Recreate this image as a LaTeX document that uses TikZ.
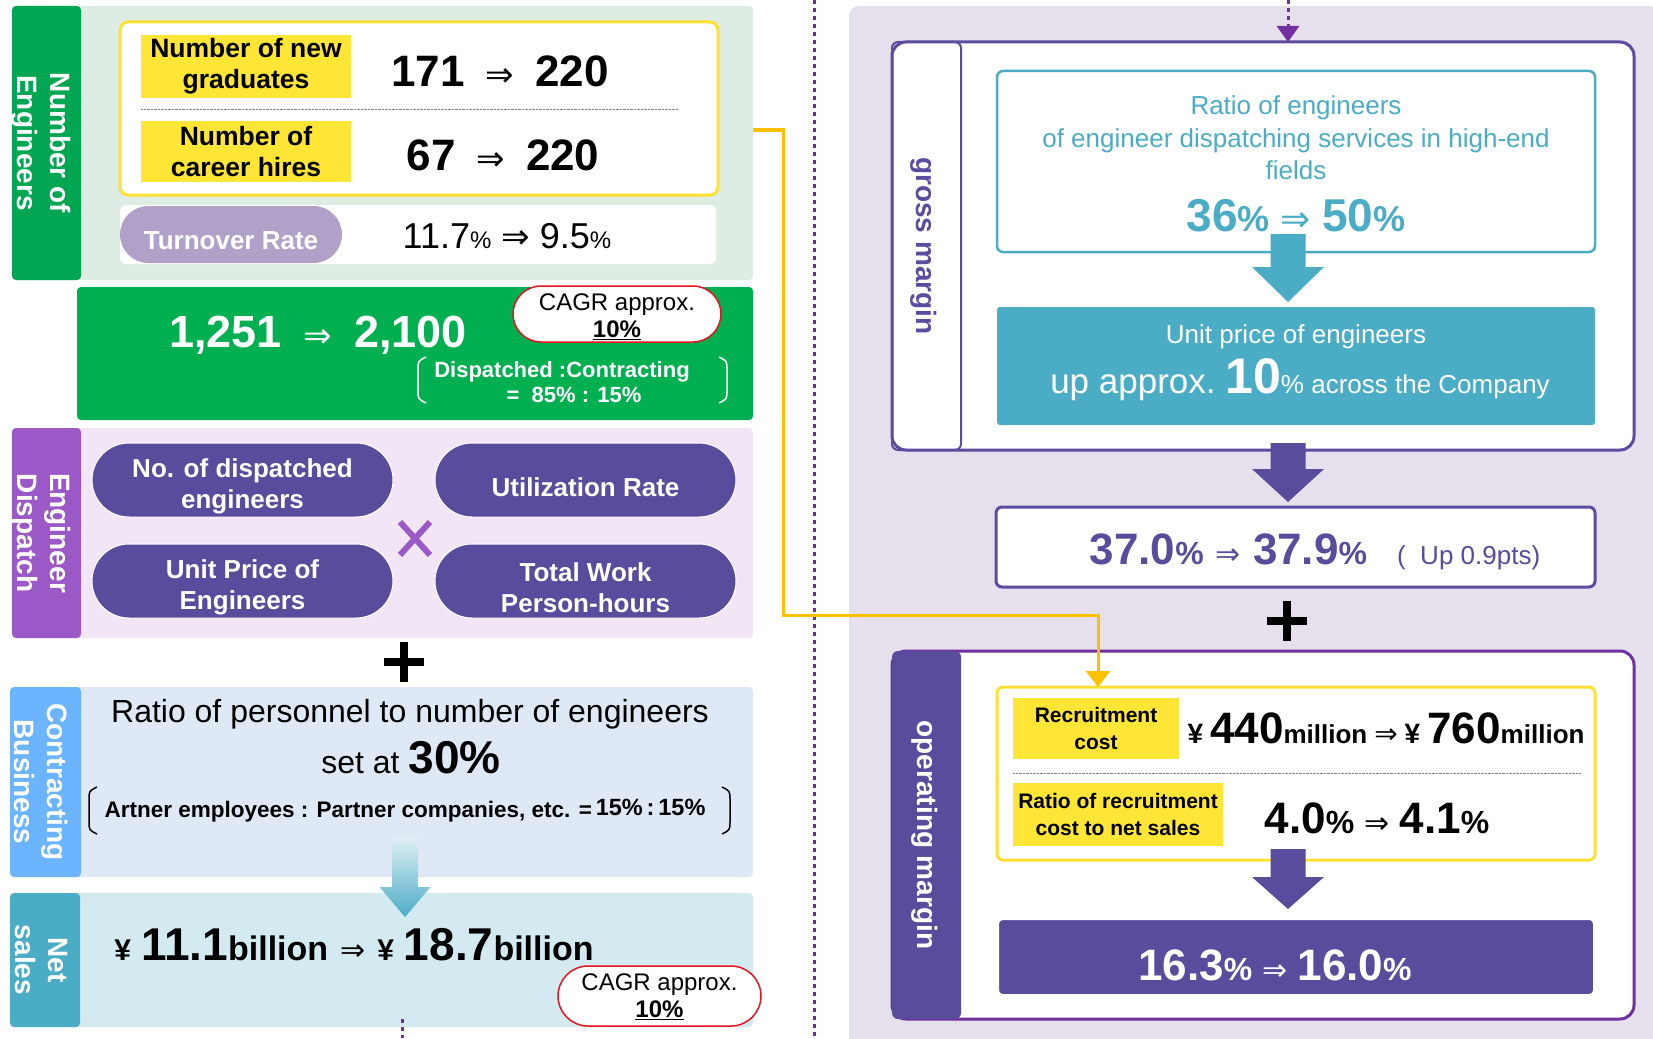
\documentclass[tikz,border=0pt]{standalone}
\usepackage{fontspec}
\setmainfont{Liberation Sans}
\newfontfamily\arrfont{DejaVu Sans}
\usetikzlibrary{arrows.meta}

\definecolor{engbg}{RGB}{221,237,228}
\definecolor{engbar}{RGB}{0,166,81}
\definecolor{totgreen}{RGB}{0,176,80}
\definecolor{tagyellow}{RGB}{255,229,54}
\definecolor{framey}{RGB}{255,224,51}
\definecolor{lavpill}{RGB}{177,160,200}
\definecolor{dispbg}{RGB}{242,230,246}
\definecolor{dispbar}{RGB}{155,89,200}
\definecolor{pillpurple}{RGB}{89,76,156}
\definecolor{conbg}{RGB}{223,233,245}
\definecolor{conbar}{RGB}{108,180,254}
\definecolor{netbg}{RGB}{211,234,241}
\definecolor{tealc}{RGB}{75,172,198}
\definecolor{rightbg}{RGB}{230,223,236}
\definecolor{frameviolet}{RGB}{92,75,158}
\definecolor{framepurple}{RGB}{112,48,160}
\definecolor{connorange}{RGB}{255,192,0}
\definecolor{cagrred}{RGB}{230,20,30}
\definecolor{arrowpale}{RGB}{225,240,245}

\newcommand\fsz[2]{\fontsize{#1}{#2}\selectfont}
% arrow sign with gap on both sides
\newcommand\imp[2]{\hspace{#1pt}{\arrfont\mdseries\fontsize{#2}{#2}\selectfont ⇒}\hspace{#1pt}}

\tikzset{pics/downarrow/.style args={#1/#2/#3/#4}{code={
  \path[pic actions] (-#2,0) -- (#2,0) -- (#2,#4) -- (#3,#4) -- (0,#1) -- (-#3,#4) -- (-#2,#4) -- cycle;}}}

\begin{document}
\begin{tikzpicture}[x=1pt,y=-1pt,
  panel/.style={rectangle,anchor=north west,inner sep=0pt,outer sep=0pt,rounded corners=4pt},
  sidetext/.style={rotate=-90,align=center,text=white,font=\fsz{28}{33}\bfseries},
  tag/.style={panel,rounded corners=0pt,fill=tagyellow,align=center},
  pill/.style={panel,rounded corners=37pt,fill=pillpurple,draw=white,line width=1pt,minimum width=301,minimum height=74},
  pilltext/.style={text=white,align=center,font=\fsz{26}{31.5}\bfseries,inner sep=0pt},
  cagr/.style={panel,fill=white,draw=cagrred,line width=1.5pt,rounded corners=28pt},
  cagrtext/.style={align=center,font=\fsz{24}{27},inner sep=0pt},
  loopline/.style={draw=framepurple,line width=3pt,dash pattern=on 4pt off 4pt},
  paren/.style={line width=1.5pt},
  signmark/.style={line width=8pt},
  value/.style={anchor=base,inner sep=0pt}
]
\useasboundingbox (0,0) rectangle (1653,1038);

% number of engineers
\node[panel,fill=engbg,minimum width=740,minimum height=274] (engsec) at (13,6) {};
\node[panel,fill=engbar,minimum width=69,minimum height=274] (engside) at (12,6) {};
\node[sidetext] at ([xshift=-5pt]engside.center) {Number of\\Engineers};
\node[panel,fill=white,draw=framey,line width=3pt,rounded corners=8pt,minimum width=598,minimum height=173] (hirebox) at (120,22) {};
\node[tag,minimum width=210,minimum height=63,font=\fsz{26.5}{31}\bfseries] (newgrad) at (141,35) {Number of new\\graduates};
\node[value,font=\bfseries] (newgradval) at (500,87) {\fsz{44}{50}171\imp{21}{34}220};
\draw[gray,densely dotted] (newgrad.south west) ++(0,-11pt) -- ++(537pt,0);
\node[tag,minimum width=210,minimum height=61,font=\fsz{26.5}{31}\bfseries] (career) at (141,121) {Number of\\career hires};
\node[value,font=\bfseries] (careerval) at (503,170) {\fsz{44}{50}67\imp{21}{34}220};
\node[panel,fill=white,rounded corners=6pt,minimum width=596,minimum height=59] (turnrow) at (120,205) {};
\node[panel,fill=lavpill,rounded corners=28.5pt,minimum width=222,minimum height=57] (turnpill) at (120,206) {};
\node[text=white,font=\fsz{26}{30}\bfseries,inner sep=0pt] at ([yshift=-6pt]turnpill.center) {Turnover Rate};
\node[value] (turnval) at (507,248) {\fsz{36}{40}11.7{\fsz{24}{28}\%}\imp{10}{34}9.5{\fsz{24}{28}\%}};

% total engineers
\node[panel,fill=totgreen,minimum width=676,minimum height=133] (totbox) at (77,287) {};
\node[value,text=white,font=\bfseries] (totval) at (318,347) {\fsz{45}{50}1,251\imp{22}{34}2,100};
\node[cagr,minimum width=208,minimum height=56] (cagrone) at (513,286) {};
\node[cagrtext] at ([yshift=-3pt]cagrone.center) {CAGR approx.\\\textbf{\underline{10\%}}};
\node[text=white,align=center,font=\fsz{22}{25}\bfseries,inner sep=0pt] (splitnote) at (562,382) {Dispatched :Contracting\\\hspace*{24pt}=\ \ 85\% : 15\%};
\draw[paren,white] (426,357) .. controls (418,361) .. (418,370) -- (418,390) .. controls (418,399) .. (426,403);
\draw[paren,white] (719,357) .. controls (727,361) .. (727,370) -- (727,390) .. controls (727,399) .. (719,403);

% engineer dispatch
\node[panel,fill=dispbg,minimum width=740,minimum height=210] (dispsec) at (13,428) {};
\node[panel,fill=dispbar,minimum width=69,minimum height=210] (dispside) at (12,428) {};
\node[sidetext] at ([xshift=-5pt]dispside.center) {Engineer\\Dispatch};
\node[pill] (headcount) at (92,443) {};
\node[pilltext] at ([yshift=-6.5pt]headcount.center) {No. of dispatched\\engineers};
\node[pill] (utilrate) at (435,443) {};
\node[pilltext] at ([yshift=-7pt]utilrate.center) {Utilization Rate};
\node[pill] (unitprice) at (92,544) {};
\node[pilltext] at ([yshift=-6.5pt]unitprice.center) {Unit Price of\\Engineers};
\node[pill] (workhours) at (435,544) {};
\node[pilltext] at ([yshift=-6.5pt]workhours.center) {Total Work\\Person-hours};
\draw[draw=dispbar,line width=6pt] (400,522) -- (430,555) (430,522) -- (400,555);
\draw[signmark] (384,662) -- (424,662) (404,642) -- (404,682);

% contracting business
\node[panel,fill=conbg,minimum width=742,minimum height=190] (consec) at (11,687) {};
\node[panel,fill=conbar,minimum width=71,minimum height=190] (conside) at (10,687) {};
\node[sidetext] at ([xshift=-4pt]conside.center) {Contracting\\Business};
\node[value,font=\fsz{32}{36}] (ratiotxt) at (410,722) {Ratio of personnel to number of engineers};
\node[value,font=\fsz{32}{36}] (setat) at (411,773) {set at {\fsz{46}{50}\bfseries 30\%}};
\node[value,font=\fsz{22.5}{24}\bfseries] (splittxt) at (405,817) {Artner employees : Partner companies, etc. =\,\raisebox{2pt}{\fsz{23.5}{26}15\%\,:\,15\%}};
\draw[paren] (97,787) .. controls (89,791) .. (89,800) -- (89,821) .. controls (89,830) .. (97,834);
\draw[paren] (722,787) .. controls (730,791) .. (730,800) -- (730,821) .. controls (730,830) .. (722,834);

% net sales
\node[panel,fill=netbg,minimum width=742,minimum height=134] (netsec) at (11,893) {};
\node[panel,fill=tealc,minimum width=70,minimum height=134] (netside) at (10,893) {};
\node[sidetext] at ([xshift=-4pt]netside.center) {Net\\sales};
\node[value,font=\bfseries] (salesval) at (354,960) {{\fsz{30}{34}¥}\hspace{10pt}{\fsz{46}{50}11.1}{\fsz{34}{38}billion}\imp{12}{30}{\fsz{30}{34}¥}\hspace{10pt}{\fsz{46}{50}18.7}{\fsz{34}{38}billion}};
\node[cagr,minimum width=203,minimum height=60,rounded corners=30pt] (cagrtwo) at (558,966) {};
\node[cagrtext] at ([yshift=-1pt]cagrtwo.center) {CAGR approx.\\\textbf{\underline{10\%}}};
\pic[top color=arrowpale,bottom color=tealc] (gradarrow) at (405,837) {downarrow=80/13/25.5/50};

% dotted divider and loop ends
\draw[loopline] (814,0) -- (814,1038);
\coordinate (loopbot) at (402,1038);
\draw[loopline] (loopbot |- netsec.south) ++(0,8pt) -- (loopbot);

% gross margin
\node[panel,fill=rightbg,rounded corners=10pt,minimum width=810,minimum height=1045] (rightsec) at (849,6) {};
\node[panel,fill=white,draw=frameviolet,line width=3pt,rounded corners=14pt,minimum width=742,minimum height=408] (gross) at (892,42) {};
\node[panel,draw=frameviolet,line width=2pt,rounded corners=6pt,minimum width=69,minimum height=408] (grossside) at (892,42) {};
\node[sidetext,text=frameviolet] at ([xshift=-3pt]grossside.center) {gross margin};
\node[panel,fill=white,draw=tealc,line width=2.5pt,rounded corners=6pt,minimum width=598,minimum height=181] (hiend) at (997,71) {};
\node[align=center,text=tealc,font=\fsz{26}{32.5},inner sep=0pt] (hiendtxt) at (1296,138) {Ratio of engineers\\of engineer dispatching services in high-end\\fields};
\node[value,text=tealc,font=\bfseries] (hiendval) at (1296,231) {\fsz{46}{50}36{\fsz{36}{40}\%}\imp{11}{36}50{\fsz{36}{40}\%}};
\node[panel,fill=tealc,rounded corners=3pt,minimum width=598,minimum height=118] (unitup) at (997,307) {};
\node[value,text=white,font=\fsz{26}{30}] (unituptxt) at (1296,343) {Unit price of engineers};
\node[value,text=white,font=\fsz{26}{30}] (unitupval) at (1300,393) {{\fsz{35}{38}up approx.\ }{\fsz{50}{54}\bfseries 10}\%\ across the Company};
\pic[fill=tealc] (hiendarrow) at (1288,234) {downarrow=68/17.5/36/33};

\node[panel,fill=white,draw=frameviolet,line width=3pt,rounded corners=6pt,minimum width=599,minimum height=80] (gmbox) at (996,507) {};
\node[value,text=pillpurple,font=\bfseries] (gmval) at (1315,564) {{\fsz{44}{50}37.0}{\fsz{32}{36}\%}\imp{12}{30}{\fsz{44}{50}37.9}{\fsz{32}{36}\%}\hspace{30pt}{\mdseries\fsz{26}{30}(\ \ Up 0.9pts)}};
\pic[fill=pillpurple] (grossarrow) at (1288,443) {downarrow=59/17.5/36/26};
\draw[signmark] (1267,621) -- (1307,621) (1287,601) -- (1287,641);

% operating margin
\node[panel,fill=white,draw=framepurple,line width=3pt,rounded corners=14pt,minimum width=742,minimum height=368] (opbox) at (892,651) {};
\node[panel,fill=pillpurple,rounded corners=6pt,minimum width=69,minimum height=368] (opside) at (892,651) {};
\node[sidetext] at ([xshift=-2pt]opside.center) {operating margin};
\node[panel,fill=white,draw=framey,line width=3pt,rounded corners=6pt,minimum width=598,minimum height=173] (recbox) at (997,687) {};
\node[tag,minimum width=166,minimum height=61,font=\fsz{21}{26.5}\bfseries] (reccost) at (1013,698) {Recruitment\\cost};
\node[value,font=\bfseries] (reccostval) at (1386,743) {{\fsz{28}{32}¥}\hspace{7pt}{\fsz{44}{50}440}{\fsz{26}{30}million}\imp{7}{28}{\fsz{28}{32}¥}\hspace{7pt}{\fsz{44}{50}760}{\fsz{26}{30}million}};
\draw[gray,densely dotted] (reccost.south west) ++(0,-14pt) -- ++(568pt,0);
\node[tag,minimum width=210,minimum height=63,font=\fsz{21}{26.5}\bfseries] (recratio) at (1013,783) {Ratio of recruitment\\cost to net sales};
\node[value,font=\bfseries] (recratioval) at (1377,833) {{\fsz{44}{50}4.0}{\fsz{32}{36}\%}\imp{10}{30}{\fsz{44}{50}4.1}{\fsz{32}{36}\%}};
\node[panel,fill=pillpurple,draw=white,line width=4pt,rounded corners=6pt,minimum width=598,minimum height=78] (opmbox) at (997,918) {};
\node[value,text=white,font=\bfseries] (opmval) at (1275,980) {{\fsz{44}{50}16.3}{\fsz{32}{36}\%}\imp{10}{30}{\fsz{44}{50}16.0}{\fsz{32}{36}\%}};
\pic[fill=pillpurple] (recarrow) at (1288,849) {downarrow=60/17.5/36/28};

% loop arrow in, recruitment connector
\coordinate (looptop) at (1288,0);
\draw[loopline,-{Triangle[width=22pt,length=16pt]}] (looptop) -- (looptop |- gross.north);
\draw[draw=connorange,line width=3pt,-{Triangle[width=24pt,length=16pt]}] ([yshift=13pt]engsec.east) -| ++(30pt,-485pt) -| ([xshift=101pt]recbox.north west);
\end{tikzpicture}
\end{document}
